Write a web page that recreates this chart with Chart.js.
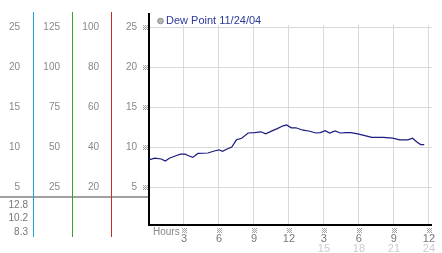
<!DOCTYPE html>
<html>
<head>
<meta charset="utf-8">
<script src="https://cdn.jsdelivr.net/npm/chart.js@4.4.0/dist/chart.umd.min.js"></script>
<style>
  html, body { margin: 0; padding: 0; background: #fff; }
  #wrap { width: 442px; height: 253px; }
</style>
</head>
<body>
<div id="wrap"><canvas id="c" width="442" height="253"></canvas></div>
<script>
// dew point readings through the day (hour of day, degrees)
const hours = [0, 0.5, 1.05, 1.4, 1.74, 2.3, 2.7, 3.1, 3.4, 3.75,
  4.2, 5.05, 5.6, 6.0, 6.3, 6.7, 7.1, 7.5, 7.95, 8.5,
  9.05, 9.6, 10.0, 10.6, 11.0, 11.5, 11.8, 12.2, 12.6, 13.2,
  13.7, 14.3, 14.7, 15.1, 15.5, 15.95, 16.4, 16.9, 17.3, 17.9,
  18.6, 19.1, 20.1, 20.9, 21.5, 22.2, 22.6, 23.0, 23.3, 23.6];
const dewPoint = [8.4, 8.6, 8.5, 8.25, 8.6, 8.9, 9.1, 9.1, 8.9, 8.7,
  9.2, 9.25, 9.5, 9.65, 9.45, 9.75, 10.0, 10.9, 11.1, 11.75,
  11.8, 11.9, 11.65, 12.05, 12.3, 12.65, 12.75, 12.4, 12.4, 12.1,
  12.0, 11.75, 11.8, 12.05, 11.75, 12.0, 11.75, 11.8, 11.8, 11.65,
  11.4, 11.2, 11.2, 11.1, 10.9, 10.9, 11.1, 10.6, 10.3, 10.3];

const seriesLabel = "Dew Point 11/24/04";

// tick values for the main axis and the three side columns
const mainTicks = [5, 10, 15, 20, 25];
const colATicks = [5, 10, 15, 20, 25];
const colBTicks = [25, 50, 75, 100, 125];
const colCTicks = [20, 40, 60, 80, 100];

const hourTicks = [3, 6, 9, 12, 15, 18, 21, 24];
const hourLabels = ["3", "6", "9", "12", "3", "6", "9", "12"];
const afternoonTicks = [15, 18, 21, 24];

// max / avg / min
const stats = ["12.8", "10.2", "8.3"];

const font = "'Liberation Sans', Arial, sans-serif";

function fixTicks(values) {
  return (scale) => {
    scale.ticks = values.map((v) => ({ value: v }));
  };
}

function fixWidth(w) {
  return (scale) => { scale.width = w; };
}

function drawMark(ctx, x, y) {
  ctx.fillStyle = "#a0a0a0";
  for (let i = 0; i < 5; i++) {
    for (let j = 0; j < 5; j++) {
      if ((i + j) % 2 === 0) ctx.fillRect(Math.round(x) - 2 + i, Math.round(y) - 2 + j, 1, 1);
    }
  }
}

const extras = {
  id: "extras",
  afterDraw(chart) {
    const ctx = chart.ctx;
    const area = chart.chartArea;
    const s = chart.scales;
    ctx.save();

    // separator under the column scales
    ctx.strokeStyle = "#a0a0a0";
    ctx.lineWidth = 2;
    ctx.beginPath();
    ctx.moveTo(0, 197);
    ctx.lineTo(area.left - 1, 197);
    ctx.stroke();

    // coloured column rules
    const rules = [["yA", "#1fa3dc"], ["yB", "#2ea52e"], ["yC", "#c62c2c"]];
    rules.forEach(([id, c]) => {
      const x = Math.round(s[id].right) + 0.5;
      ctx.strokeStyle = c;
      ctx.lineWidth = 1;
      ctx.beginPath();
      ctx.moveTo(x, 12);
      ctx.lineTo(x, 237);
      ctx.stroke();
    });

    // main axis goes a bit higher than the plot
    ctx.strokeStyle = "#000";
    ctx.lineWidth = 2;
    ctx.beginPath();
    ctx.moveTo(area.left, 13);
    ctx.lineTo(area.left, area.top);
    ctx.stroke();

    // little tick marks
    s.y.ticks.forEach((t) => drawMark(ctx, area.left - 4, s.y.getPixelForValue(t.value)));
    s.x.ticks.forEach((t) => drawMark(ctx, s.x.getPixelForValue(t.value), 230));

    ctx.font = "10px " + font;
    ctx.textBaseline = "middle";
    ctx.fillStyle = "#888";
    ctx.textAlign = "left";
    ctx.fillText("Hours", area.left + 4, 232);

    ctx.fillStyle = "#777";
    ctx.textAlign = "right";
    stats.forEach((t, i) => ctx.fillText(t, 28, 205 + i * 13.5));

    // legend
    ctx.beginPath();
    ctx.arc(160.5, 21, 2.8, 0, Math.PI * 2);
    ctx.fillStyle = "#b8b8b8";
    ctx.fill();
    ctx.strokeStyle = "#8a8a8a";
    ctx.lineWidth = 1;
    ctx.stroke();
    ctx.font = "11px " + font;
    ctx.fillStyle = "#2b3a9c";
    ctx.textAlign = "left";
    ctx.fillText(chart.data.datasets[0].label, 166, 21);

    ctx.restore();
  }
};

const sideTick = { color: "#888", font: { family: font, size: 10 } };

new Chart(document.getElementById("c"), {
  type: "line",
  data: {
    datasets: [{
      label: seriesLabel,
      data: hours.map((h, i) => ({ x: h, y: dewPoint[i] })),
      borderColor: "#1a1a80",
      borderWidth: 1.2,
      pointRadius: 0,
      tension: 0,
      fill: false,
      yAxisID: "y"
    }]
  },
  options: {
    responsive: false,
    animation: false,
    layout: { padding: { top: 25, right: 0, bottom: 0, left: 0 } },
    plugins: {
      legend: { display: false },
      tooltip: { enabled: false }
    },
    scales: {
      x: {
        type: "linear",
        position: "bottom",
        weight: 0,
        min: 0,
        max: 24.25,
        afterBuildTicks: fixTicks(hourTicks),
        afterFit: (scale) => { scale.height = 17; },
        grid: { color: "#d9d9d9", drawTicks: false },
        border: { color: "#000", width: 2 },
        ticks: {
          padding: 7,
          color: "#777",
          font: { family: font, size: 11 },
          maxRotation: 0,
          autoSkip: false,
          callback: (v) => hourLabels[hourTicks.indexOf(v)]
        }
      },
      x2: {
        type: "linear",
        position: "bottom",
        weight: 1,
        min: 0,
        max: 24.25,
        afterBuildTicks: fixTicks(afternoonTicks),
        afterFit: (scale) => { scale.height = 11; },
        grid: { display: false, drawTicks: false },
        border: { display: false },
        ticks: {
          padding: 0,
          color: "#cccccc",
          font: { family: font, size: 11 },
          maxRotation: 0,
          autoSkip: false,
          callback: (v) => String(v)
        }
      },
      y: {
        position: "left",
        weight: 0,
        min: 0.25,
        max: 25.25,
        afterBuildTicks: fixTicks(mainTicks),
        afterFit: fixWidth(38),
        grid: { color: "#d9d9d9", drawTicks: false },
        border: { color: "#000", width: 2 },
        ticks: { ...sideTick, padding: 12 }
      },
      yC: {
        position: "left",
        weight: 1,
        min: 1,
        max: 101,
        afterBuildTicks: fixTicks(colCTicks),
        afterFit: fixWidth(39),
        grid: { display: false, drawTicks: false },
        border: { display: false },
        ticks: { ...sideTick, padding: 12 }
      },
      yB: {
        position: "left",
        weight: 2,
        min: 1.25,
        max: 126.25,
        afterBuildTicks: fixTicks(colBTicks),
        afterFit: fixWidth(39),
        grid: { display: false, drawTicks: false },
        border: { display: false },
        ticks: { ...sideTick, padding: 12 }
      },
      yA: {
        position: "left",
        weight: 3,
        min: 0.25,
        max: 25.25,
        afterBuildTicks: fixTicks(colATicks),
        afterFit: fixWidth(33),
        grid: { display: false, drawTicks: false },
        border: { display: false },
        ticks: { ...sideTick, padding: 13 }
      }
    }
  },
  plugins: [extras]
});
</script>
</body>
</html>
